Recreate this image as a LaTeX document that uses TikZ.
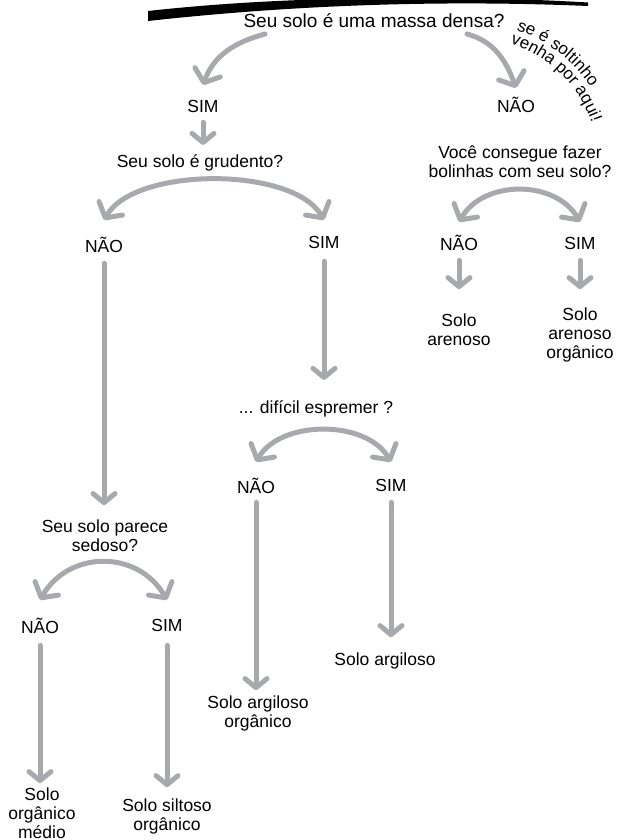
\documentclass[tikz,border=0pt]{standalone}
\usepackage{fontspec}
\setmainfont{Liberation Sans}
\usetikzlibrary{arrows.meta, decorations.text}
\definecolor{arrowgray}{RGB}{167,169,172}
\newcommand{\bendfont}{\fontsize{17}{17}\selectfont}

\begin{document}
\begin{tikzpicture}[x=1pt, y=1pt,
  txt/.style={anchor=base, inner sep=1pt, align=center, font=\fontsize{17.5}{19}\selectfont},
  garrow/.style={draw=arrowgray, line width=5pt, line cap=round, -{Straight Barb[length=9pt, width=22pt, round]}},
  carrow/.style={draw=arrowgray, line width=5pt, line cap=round, -{Straight Barb[length=11pt, width=27pt, round]}},
  barrow/.style={draw=arrowgray, line width=5pt, line cap=round, {Straight Barb[length=11pt, width=27pt, round]}-{Straight Barb[length=11pt, width=27pt, round]}}]

\useasboundingbox (0,0) rectangle (623,-840);

\fill (148,-11) .. controls (300,6) and (480,4) .. (588,-2.5) -- (588,-6) .. controls (470,-1) and (320,-2) .. (148,-21) -- cycle;

\node[txt, font=\fontsize{19}{21}\selectfont] (q1) at (374,-28) {Seu solo é uma massa densa?};
\node[txt] (s1) at (203,-113) {SIM};
\node[txt] (n1) at (516,-113) {NÃO};

\path[decorate, decoration={text along path, text align=center, text={|\bendfont|se é soltinho}}] (472,-165) ++(88:142pt) arc[start angle=88, end angle=17, radius=142pt];
\path[decorate, decoration={text along path, text align=center, text={|\bendfont|venha por aqui!}}] (472,-165) ++(85:127pt) arc[start angle=85, end angle=7, radius=127pt];

\node[txt] (q2) at (200,-167) {Seu solo é grudento?};
\node[txt] (n2) at (104,-252) {NÃO};
\node[txt] (s2) at (324,-248) {SIM};

\node[txt] (q3) at (520,-177) {Você consegue fazer\\bolinhas com seu solo?};
\node[txt] (n3) at (459,-250) {NÃO};
\node[txt] (s3) at (580,-249) {SIM};
\node[txt] (r3) at (459,-345) {Solo\\arenoso};
\node[txt] (r4) at (580,-358) {Solo\\arenoso\\orgânico};

\node[txt] (q4) at (316,-413) {... difícil espremer ?};
\node[txt] (n4) at (256,-493) {NÃO};
\node[txt] (s4) at (391,-491) {SIM};
\node[txt] (r5) at (385,-665) {Solo argiloso};
\node[txt] (r6) at (258,-727) {Solo argiloso\\orgânico};

\node[txt] (q5) at (105,-551) {Seu solo parece\\sedoso?};
\node[txt] (n5) at (40,-633) {NÃO};
\node[txt] (s5) at (167,-631) {SIM};
\node[txt] (r1) at (42,-838) {Solo\\orgânico\\médio};
\node[txt] (r2) at (167,-830) {Solo siltoso\\orgânico};

\draw[carrow] ([xshift=-109pt,yshift=-6pt]q1.base) to[out=195, in=70] ([yshift=28pt]s1.base);
\draw[carrow] ([xshift=93pt,yshift=-6pt]q1.base) to[out=-15, in=110] ([yshift=25pt]n1.base);

\draw[garrow, shorten <=8pt, shorten >=8pt] (s1.south) -- (s1.south |- q2.north);
\draw[barrow] ([yshift=32pt]n2.base) .. controls +(60:62) and +(120:62) .. ([yshift=28pt]s2.base);
\draw[garrow, shorten <=10pt, shorten >=13pt] (n2.south) -- (n2.south |- q5.north);
\draw[garrow, shorten <=12pt, shorten >=19pt] (s2.south) -- (s2.south |- q4.north);

\draw[barrow] ([yshift=28pt]n3.base) .. controls +(60:49) and +(120:49) .. ([yshift=27pt]s3.base);
\draw[garrow, shorten <=9pt, shorten >=23pt] (n3.south) -- (n3.south |- r3.north);
\draw[garrow, shorten <=10pt, shorten >=17pt] (s3.south) -- (s3.south |- r4.north);

\draw[barrow] ([yshift=31pt]n4.base) .. controls +(60:49) and +(120:49) .. ([yshift=29pt]s4.base);
\draw[garrow, shorten <=8pt, shorten >=4pt] (n4.south) -- (n4.south |- r6.north);
\draw[garrow, shorten <=10pt, shorten >=14pt] (s4.south) -- (s4.south |- r5.north);

\draw[barrow] ([yshift=33pt]n5.base) .. controls +(60:58) and +(120:58) .. ([yshift=31pt]s5.base);
\draw[garrow, shorten <=11pt, shorten >=3pt] (n5.south) -- (n5.south |- r1.north);
\draw[garrow, shorten <=13pt, shorten >=10pt] (s5.south) -- (s5.south |- r2.north);

\end{tikzpicture}
\end{document}
